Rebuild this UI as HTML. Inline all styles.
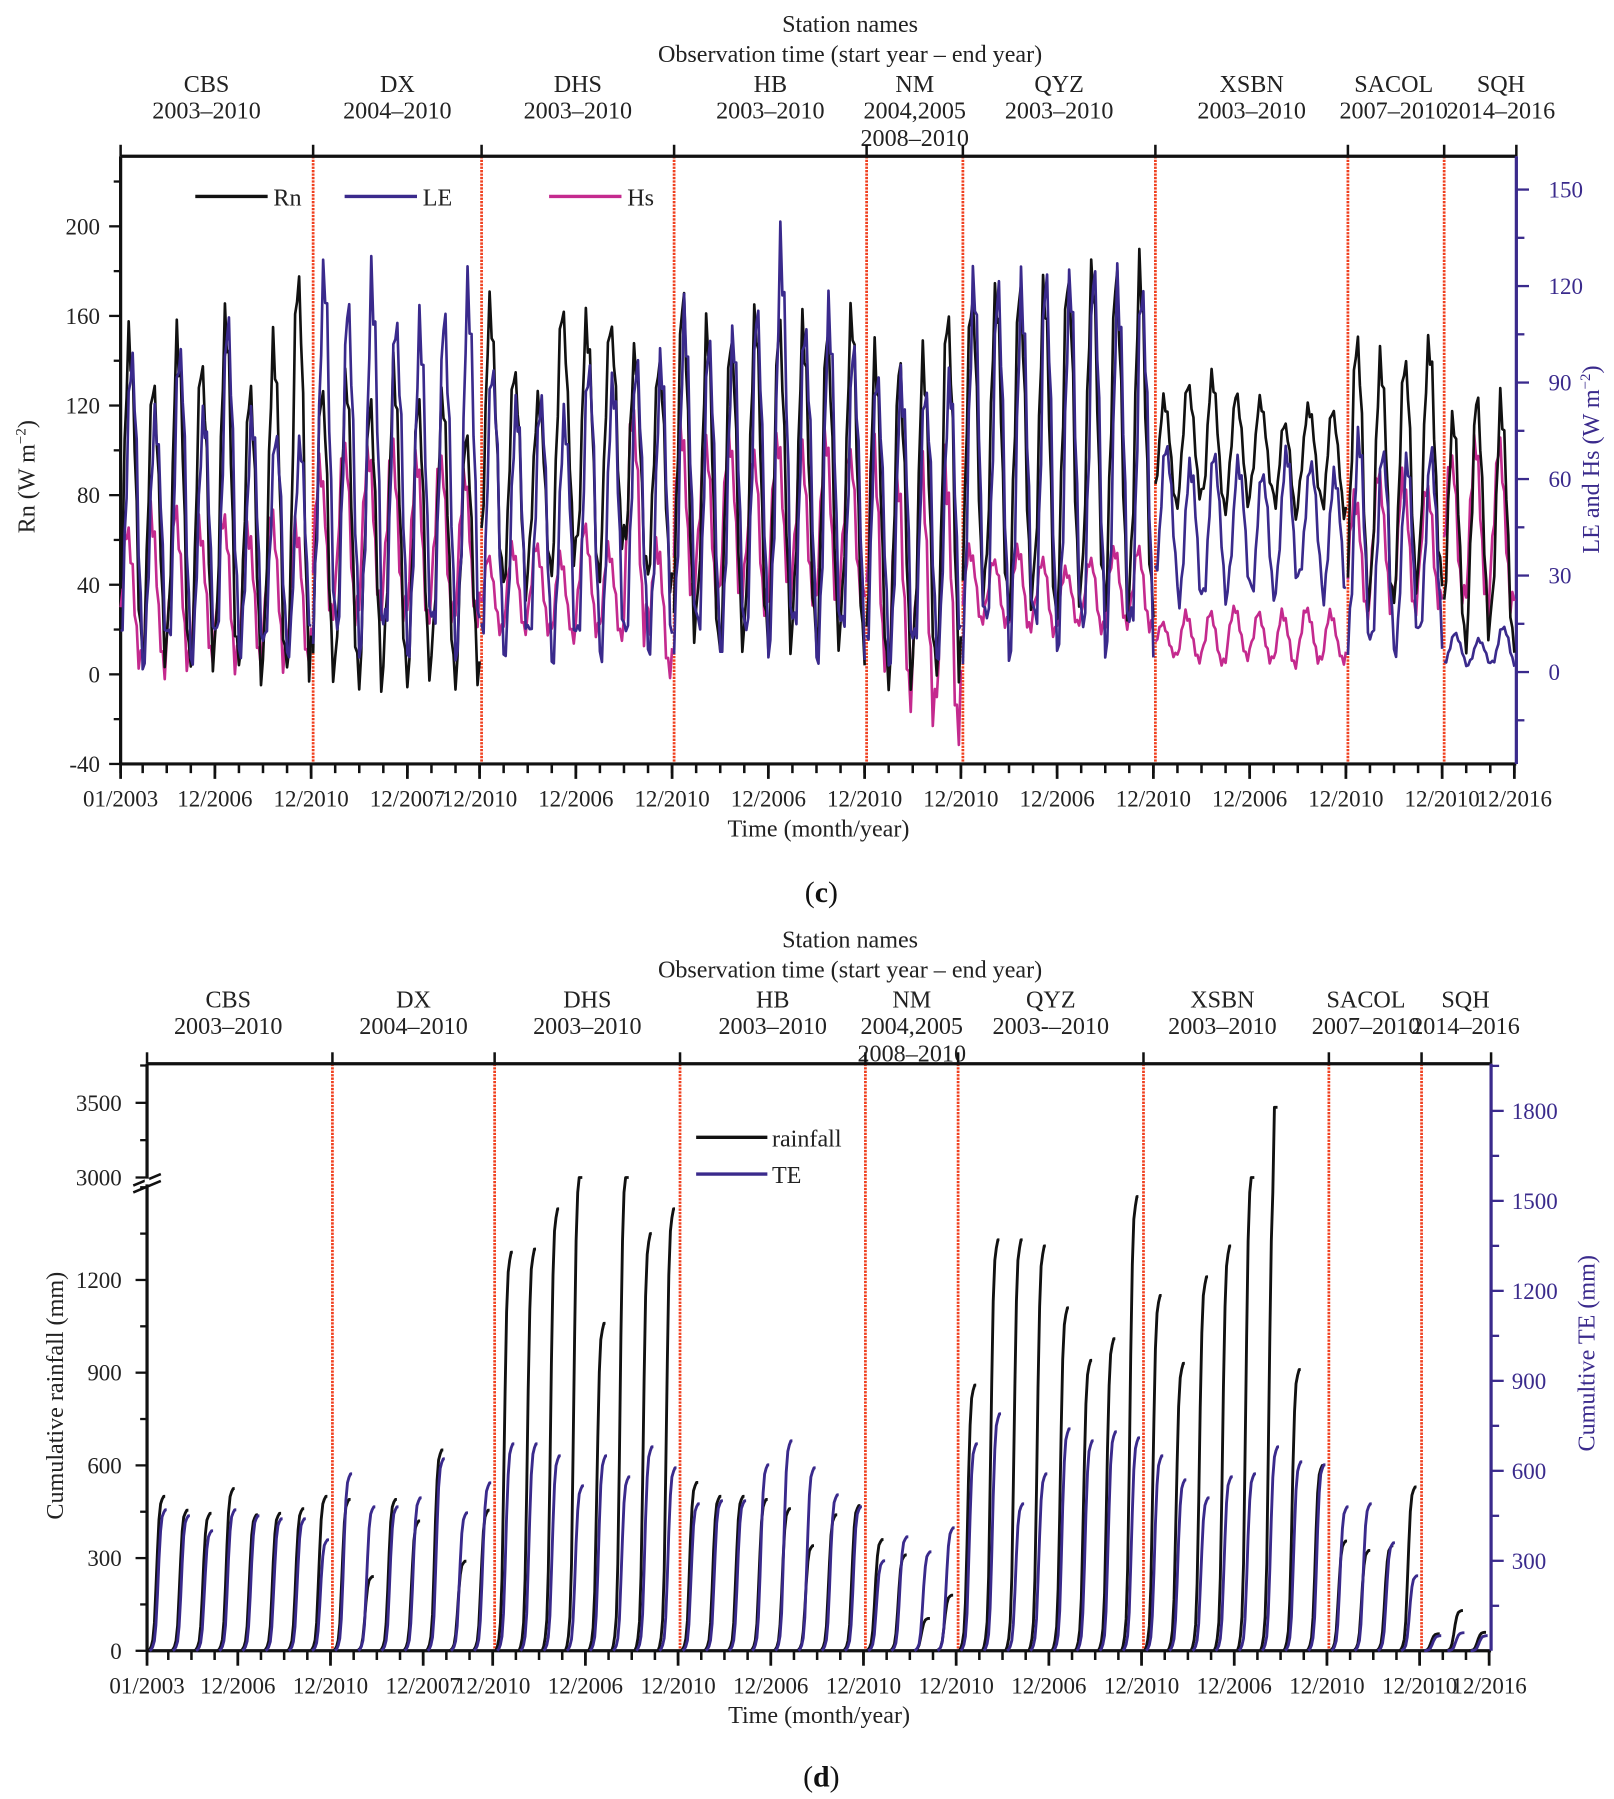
<!DOCTYPE html>
<html><head><meta charset="utf-8">
<style>
html,body{margin:0;padding:0;background:#fff;}
svg{display:block;font-family:"Liberation Serif",serif;}
</style></head>
<body>
<svg id="fig" width="1614" height="1799" viewBox="0 0 1405 1566" xmlns="http://www.w3.org/2000/svg">
<rect width="1405" height="1566" fill="#fff"/>
<g id="pc"></g>
<g id="pd"></g>
</svg>
<script>
// ---------- shared data ----------
const stationNames = ["CBS","DX","DHS","HB","NM","QYZ","XSBN","SACOL","SQH"];
const stationYearsC = ["2003–2010","2004–2010","2003–2010","2003–2010","2004,2005","2003–2010","2003–2010","2007–2010","2014–2016"];
const stationYearsD = ["2003–2010","2004–2010","2003–2010","2003–2010","2004,2005","2003-–2010","2003–2010","2007–2010","2014–2016"];
const stationNYears = [8,7,8,8,4,8,8,4,3];
const tickMonths = [0,47,95,143,179,227,275,323,371,419,467,515,563,611,659,695];
const tickLabels = ["01/2003","12/2006","12/2010","12/2007","12/2010","12/2006","12/2010","12/2006","12/2010","12/2010","12/2006","12/2010","12/2006","12/2010","12/2010","12/2016"];
const seasonShape = [0.05,0.15,0.35,0.6,0.85,1,0.95,0.85,0.65,0.4,0.18,0.05];
const wiggle = [0.06,-0.05,0.08,-0.07,0.04,-0.09,0.07,-0.03,0.09,-0.06,0.05,-0.08,0.03,-0.04,0.07,-0.08,0.06,-0.02,0.08,-0.07,0.04,-0.05,0.09,-0.06];
const cumShape = [0,0.01,0.03,0.07,0.18,0.4,0.65,0.85,0.95,0.98,1,1];
// ---------- panel c data (yearly max / min) ----------
const rnMax = [[153,130,150,140,158,128,149,178],[130,130,120,135,120,125,105],[163,135,124,163,157,157,143,140],[168,153,153,158,155,154,150,162],[140,138,140,160],[168,170,172,170,180,178,177,180],[122,130,132,125,122,112,120,118],[150,142,140,148],[115,122,120]];
const rnMin = [[10,5,2,0,0,-3,-2,-5],[-8,-7,-7,-6,-5,-6,-5],[40,35,45,50,40,55,42,38],[10,8,5,10,10,12,8,5],[-5,-6,-2,0],[30,25,25,22,25,28,25,25],[75,78,72,75,80,70,78,70],[30,28,35,40],[10,15,12]];
const leMax = [[98,80,100,80,108,78,75,70],[125,112,120,110,106,110,118],[95,82,85,80,95,90,95,95],[110,100,105,110,130,108,110,100],[92,90,88,90],[120,118,118,120,122,122,118,120],[70,65,68,65,62,68,65,62],[72,70,65,68],[12,10,14]];
const leMin = [[3,5,4,4,5,4,4,6],[6,5,5,6,6,5,5],[5,6,5,5,6,5,5,5],[5,5,4,5,6,5,4,5],[4,3,4,5],[5,5,6,5,6,5,6,5],[28,20,22,25,22,25,28,22],[5,5,6,8],[2,2,2]];
const hsMax = [[45,48,50,45,48,45,50,45],[65,70,68,70,65,68,60],[35,38,40,35,45,38,80,40],[75,72,75,68,72,70,72,70],[70,60,65,62],[38,35,38,35,32,35,38,38],[15,18,18,20,18,18,20,18],[55,62,60,58],[68,70,70]];
const hsMin = [[2,0,2,3,2,3,2,3],[15,15,18,15,15,14,15],[12,13,12,10,12,10,12,0],[20,22,20,18,22,20,18,20],[0,-10,-15,-18],[15,14,12,12,14,12,14,12],[5,3,2,4,3,2,3,3],[18,20,18,20],[20,18,20]];
// ---------- panel d data (annual totals) ----------
const rainTotal = [[500,455,445,525,440,445,460,500],[490,240,490,420,650,290,455],[1290,1300,1430,3000,1060,3000,1350,1430],[545,500,500,490,460,340,440,470],[360,310,105,180],[860,1330,1330,1310,1110,940,1010,1470],[1150,930,1210,1310,3000,3470,910,600],[355,325,340,530],[55,130,60]];
const teTotal = [[470,450,400,470,450,440,440,370],[590,480,480,510,640,460,560],[690,690,650,550,650,580,680,610],[490,500,500,620,700,610,520,480],[300,380,330,410],[690,790,490,590,740,700,730,710],[650,570,510,580,590,680,630,620],[480,490,360,250],[50,60,50]];
const rnTicks=[-40,0,40,80,120,160,200];
const leTicks=[0,30,60,90,120,150];
const rainTicksLow=[0,300,600,900,1200];
const rainTicksHigh=[3000,3500];
const teTicks=[300,600,900,1200,1500,1800];

const NS="http://www.w3.org/2000/svg";
const FS=21, TFS=20;
function mk(parent,tag,attrs,text){const e=document.createElementNS(NS,tag);for(const k in attrs)e.setAttribute(k,attrs[k]);if(text!==undefined)e.textContent=text;parent.appendChild(e);return e;}
const totalMonths = stationNYears.reduce((a,b)=>a+b,0)*12;
const bounds=[];{let s=0;for(const n of stationNYears){bounds.push(s);s+=n*12;}bounds.push(s);}

function header(g,P,years,yTop,shifts){
  const xm=m=>P.xL+m*(P.xR-P.xL)/totalMonths;
  let t=mk(g,'text',{x:740,y:yTop,'font-size':FS,'text-anchor':'middle',fill:'#222'},'Station names');
  
  t=mk(g,'text',{x:740,y:yTop+26,'font-size':FS,'text-anchor':'middle',fill:'#222'},'Observation time (start year – end year)');
  
  for(let i=0;i<stationNames.length;i++){
    let cx=(xm(bounds[i])+xm(bounds[i+1]))/2+shifts[i];
    t=mk(g,'text',{x:cx,y:yTop+52,'font-size':FS,'text-anchor':'middle',fill:'#222'},stationNames[i]);
    
    t=mk(g,'text',{x:cx,y:yTop+75,'font-size':FS,'text-anchor':'middle',fill:'#222'},years[i]);
    
  }
  let cx=(xm(bounds[4])+xm(bounds[5]))/2;
  t=mk(g,'text',{x:cx,y:yTop+99,'font-size':FS,'text-anchor':'middle',fill:'#222'},'2008–2010');
  
}

function frame(g,P){
  const xm=m=>P.xL+m*(P.xR-P.xL)/totalMonths;
  for(let i=1;i<bounds.length-1;i++){const x=xm(bounds[i]);
    let l=mk(g,'line',{x1:x,x2:x,y1:P.yT,y2:P.yB,stroke:'#f0401f','stroke-width':2.4,'stroke-dasharray':'2 1'});
    
    l=mk(g,'line',{x1:x,x2:x,y1:P.yT-10,y2:P.yT,stroke:'#111','stroke-width':2.2});
    
  }
  for(const m of [0,totalMonths]){const x=xm(m);let l=mk(g,'line',{x1:x,x2:x,y1:P.yT-10,y2:P.yT,stroke:'#111','stroke-width':2.2});}
  let l=mk(g,'line',{x1:P.xL,x2:P.xR,y1:P.yT,y2:P.yT,stroke:'#111','stroke-width':2.8});
  
  l=mk(g,'line',{x1:P.xL,x2:P.xR,y1:P.yB,y2:P.yB,stroke:'#111','stroke-width':2.8});
  
  l=mk(g,'line',{x1:P.xL,x2:P.xL,y1:P.yT,y2:P.yB,stroke:'#111','stroke-width':2.8});
  
  l=mk(g,'line',{x1:P.xR,x2:P.xR,y1:P.yT,y2:P.yB,stroke:'#3a2a8c','stroke-width':2.8});
  
  for(let m=0;m<=totalMonths;m+=12){const x=xm(m===0?0:m-1);
    l=mk(g,'line',{x1:x,x2:x,y1:P.yB,y2:P.yB+8,stroke:'#111','stroke-width':2.2});
    }
  for(let i=0;i<tickMonths.length;i++){const x=xm(tickMonths[i]);
    l=mk(g,'line',{x1:x,x2:x,y1:P.yB,y2:P.yB+13,stroke:'#111','stroke-width':2.4});
    
    let t=mk(g,'text',{x:x,y:P.yB+37,'font-size':TFS,'text-anchor':'middle',fill:'#222'},tickLabels[i]);
    }
  let t=mk(g,'text',{x:(P.xL+P.xR)/2,y:P.yB+63,'font-size':FS,'text-anchor':'middle',fill:'#222'},'Time (month/year)');
  
  return xm;
}
function pathFrom(pts){return pts.map((p,i)=>(i?'L':'M')+p[0].toFixed(1)+','+p[1].toFixed(1)).join('');}

// ---------- panel c ----------
(function(){
  const g=document.getElementById('pc');
  const P={xL:105,xR:1320,yT:136,yB:665};
  header(g,P,stationYearsC,28,[-9,0,0,0,0,0,0,-2,18]);
  const xm=frame(g,P);
  const yRn=v=>587-v*390/200;
  const yR=v=>585-v*420/150;
  for(let v=-40;v<=220;v+=20){const y=yRn(v);const major=rnTicks.includes(v);
    let l=mk(g,'line',{x1:P.xL-(major?10:6),x2:P.xL,y1:y,y2:y,stroke:'#111','stroke-width':2});
    }
  for(const v of rnTicks){let t=mk(g,'text',{x:P.xL-18,y:yRn(v)+7,'font-size':TFS,'text-anchor':'end',fill:'#222'},String(v));
    }
  for(let v=-15;v<=150;v+=15){const y=yR(v);const major=leTicks.includes(v);
    let l=mk(g,'line',{x1:P.xR,x2:P.xR+(major?11:7),y1:y,y2:y,stroke:'#3a2a8c','stroke-width':2});
    }
  for(const v of leTicks){let t=mk(g,'text',{x:P.xR+28,y:yR(v)+7,'font-size':TFS,fill:'#3a2a8c'},String(v));
    }
  let t=mk(g,'text',{x:0,y:0,'font-size':FS,'text-anchor':'middle',fill:'#222',transform:'translate(30,415) rotate(-90)'});
  t.innerHTML='Rn  (W m<tspan font-size="13" dy="-8">−2</tspan><tspan dy="8">)</tspan>';
  
  t=mk(g,'text',{x:0,y:0,'font-size':FS,'text-anchor':'middle',fill:'#3a2a8c',transform:'translate(1392,400) rotate(-90)'});
  t.innerHTML='LE  and Hs (W m<tspan font-size="13" dy="-8">−2</tspan><tspan dy="8">)</tspan>';
  
  function series(maxA,minA,yf,color,shift,noise,name){
    let d='';let idx=0;
    for(let s=0;s<maxA.length;s++){
      const pts=[];
      for(let yr=0;yr<maxA[s].length;yr++){
        for(let m=0;m<12;m++){
          const k=(m+shift+12)%12;
          let v=minA[s][yr]+(maxA[s][yr]-minA[s][yr])*(seasonShape[k]+noise*wiggle[(idx+m+yr*5)%24]);
          pts.push([xm(bounds[s]+yr*12+m),yf(v)]);
        }
      }
      idx+=7;
      d+=pathFrom(pts);
    }
    const p=mk(g,'path',{d:d,fill:'none',stroke:color,'stroke-width':2.3,'stroke-linejoin':'round'});
    
  }
  series(hsMax,hsMin,yR,'#c42a8e',2,1.2,'hs-line');
  series(rnMax,rnMin,yRn,'#111',1,0.8,'rn-line');
  series(leMax,leMin,yR,'#3a2a8c',0,0.9,'le-line');
  const leg=[['Rn','#111',170],['LE','#3a2a8c',300],['Hs','#c42a8e',478]];
  for(const [lab,c,x] of leg){
    let l=mk(g,'line',{x1:x,x2:x+63,y1:171,y2:171,stroke:c,'stroke-width':3});
    
    let tt=mk(g,'text',{x:x+68,y:179,'font-size':FS,fill:'#222'},lab);
    
  }
  t=mk(g,'text',{x:715,y:785,'font-size':26,'text-anchor':'middle',fill:'#111'});
  t.innerHTML='(<tspan font-weight="bold">c</tspan>)';
  
})();

// ---------- panel d ----------
(function(){
  const g=document.getElementById('pd');
  const P={xL:128,xR:1298,yT:926,yB:1437};
  header(g,P,stationYearsD,825,[-10,0,0,0,0,0,-12,-8,8]);
  const xm=frame(g,P);
  const yRain=v=>v>=3000?1025-(v-3000)*65/500:P.yB-Math.min(v,1530)*80.7/300;
  const yTE=v=>P.yB-v*(P.yB-967)/1800;
  for(let v=0;v<=1500;v+=150){const y=yRain(v);const major=rainTicksLow.includes(v);
    let l=mk(g,'line',{x1:P.xL-(major?10:6),x2:P.xL,y1:y,y2:y,stroke:'#111','stroke-width':2});
    }
  for(let v=3000;v<=3750;v+=250){const y=yRain(v);const major=rainTicksHigh.includes(v);
    let l=mk(g,'line',{x1:P.xL-(major?10:6),x2:P.xL,y1:y,y2:y,stroke:'#111','stroke-width':2});
    }
  for(const v of rainTicksLow.concat(rainTicksHigh)){let t=mk(g,'text',{x:P.xL-22,y:yRain(v)+7,'font-size':TFS,'text-anchor':'end',fill:'#222'},String(v));
    }
  let br=mk(g,'path',{d:'M116,1032 L140,1022 M116,1038 L140,1028',stroke:'#111','stroke-width':2.2,fill:'none'});
  
  let brw=mk(g,'rect',{x:P.xL-2,y:1026,width:4,height:5,fill:'#fff'});
  
  for(let v=150;v<=1950;v+=150){const y=yTE(v);if(y<P.yT)continue;const major=teTicks.includes(v);
    let l=mk(g,'line',{x1:P.xR,x2:P.xR+(major?11:7),y1:y,y2:y,stroke:'#3a2a8c','stroke-width':2});
    }
  for(const v of teTicks){let t=mk(g,'text',{x:P.xR+18,y:yTE(v)+7,'font-size':TFS,fill:'#3a2a8c'},String(v));
    }
  let t=mk(g,'text',{x:0,y:0,'font-size':FS,'text-anchor':'middle',fill:'#222',transform:'translate(55,1215) rotate(-90)'},'Cumulative rainfall (mm)');
  
  t=mk(g,'text',{x:0,y:0,'font-size':FS,'text-anchor':'middle',fill:'#3a2a8c',transform:'translate(1388,1178) rotate(-90)'},'Cumultive TE (mm)');
  
  function cum(tot,yf,color,offset,name){
    let d='';
    for(let s=0;s<tot.length;s++)for(let yr=0;yr<tot[s].length;yr++){
      const pts=[];
      for(let m=0;m<12;m++){
        const mm=bounds[s]+yr*12+m*0.8+offset;
        let v=tot[s][yr];
        let frac=cumShape[m];
        let val=v>=3000? (frac<0.98?Math.min(frac*1530/0.98,1530):v) : v*frac;
        pts.push([xm(mm),yf(val)]);
      }
      d+=pathFrom(pts);
    }
    const p=mk(g,'path',{d:d,fill:'none',stroke:color,'stroke-width':2.5,'stroke-linejoin':'round'});
    
  }
  cum(rainTotal,yRain,'#111',0.6,'rainfall-line');
  cum(teTotal,yTE,'#3a2a8c',1.4,'te-line');
  const leg=[['rainfall','#111',990],['TE','#3a2a8c',1022]];
  for(const [lab,c,y] of leg){
    let l=mk(g,'line',{x1:606,x2:668,y1:y,y2:y,stroke:c,'stroke-width':3});
    
    let tt=mk(g,'text',{x:672,y:y+8,'font-size':FS,fill:'#222'},lab);
    
  }
  t=mk(g,'text',{x:715,y:1555,'font-size':26,'text-anchor':'middle',fill:'#111'});
  t.innerHTML='(<tspan font-weight="bold">d</tspan>)';
  
})();
</script>
</body></html>
